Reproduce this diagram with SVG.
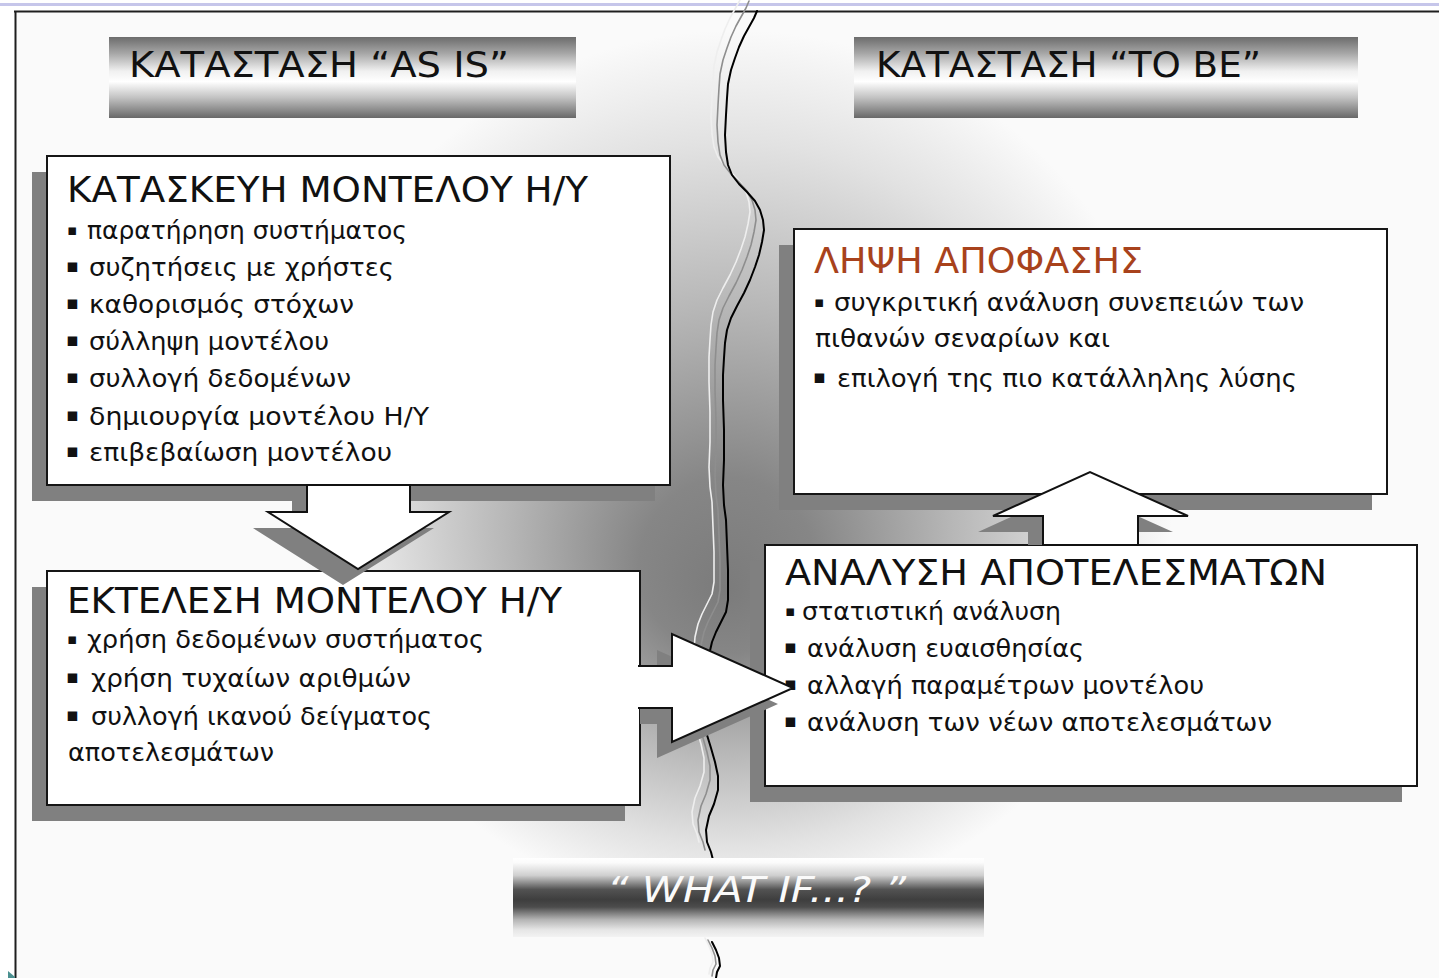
<svg xmlns="http://www.w3.org/2000/svg" width="1439" height="978" viewBox="0 0 1439 978">
  <defs>
    <style>
      .t { font-family: "DejaVu Sans", "Liberation Sans", sans-serif; fill: #111; }
      .hd { font-size: 36px; }
      .ttl { font-size: 35px; }
      .it { font-size: 25px; }
      .b1 { font-size: 15px; text-anchor: middle; }
      .b2 { font-size: 19px; text-anchor: middle; }
      .red { fill: #a8421c; }
      .box { fill: #ffffff; stroke: #161616; stroke-width: 2; }
      .shadow { fill: #808080; }
      .arrow { fill: #ffffff; stroke: #111; stroke-width: 2; stroke-linejoin: miter; }
      .crack { fill: none; stroke-linejoin: round; stroke-linecap: round; }
    </style>
    <radialGradient id="bgGrad" gradientUnits="userSpaceOnUse" cx="735" cy="470" r="440" fx="725" fy="590">
      <stop offset="0" stop-color="#7b7b7b"/>
      <stop offset="0.2" stop-color="#868686"/>
      <stop offset="0.5" stop-color="#b6b6b6"/>
      <stop offset="0.8" stop-color="#e2e2e2"/>
      <stop offset="1" stop-color="#fafafa"/>
    </radialGradient>
    <linearGradient id="barGrad" x1="0" y1="0" x2="0" y2="1">
      <stop offset="0" stop-color="#6c6c6c"/>
      <stop offset="0.2" stop-color="#a6a6a6"/>
      <stop offset="0.42" stop-color="#f0f0f0"/>
      <stop offset="0.55" stop-color="#ffffff"/>
      <stop offset="0.75" stop-color="#c2c2c2"/>
      <stop offset="1" stop-color="#686868"/>
    </linearGradient>
    <linearGradient id="whatGrad" x1="0" y1="0" x2="0" y2="1">
      <stop offset="0" stop-color="#ffffff"/>
      <stop offset="0.06" stop-color="#fbfbfb"/>
      <stop offset="0.22" stop-color="#cfcfcf"/>
      <stop offset="0.4" stop-color="#525252"/>
      <stop offset="0.53" stop-color="#3e3e3e"/>
      <stop offset="0.62" stop-color="#4c4c4c"/>
      <stop offset="0.78" stop-color="#b4b4b4"/>
      <stop offset="0.91" stop-color="#e6e6e6"/>
      <stop offset="1" stop-color="#f3f3f3"/>
    </linearGradient>
    <path id="crackTop" d="M757,11 L754,18 L749,27 L744,36 L739,47 L735,58 L731,70 L728,84 L727,98 L726,115 L725,135 L726,152 L728,165 L732,175 L739,184 L747,192 L755,201 L760,210 L763,220 L764,230 L762,242 L759,255 L755,267 L750,280 L744,293 L737,306 L731,318 L727,330 L725,343 L724,358 L723,375 L723,400 L724,430 L724,460 L723,485 L724,505 L726,520 L727,545 L728,570 L728,600 L726,612 L721,622 L716,632 L712,642 L709,655 L707,680 L706,705 L707,735 L711,748 L715,762 L718,776 L718,790 L714,804 L709,816 L706,830 L707,842 L711,852 L713,860"/>
    <path id="crackBottom" d="M712,942 L716,950 L719,958 L720,966 L717,972 L716,978"/>
  </defs>

  <!-- page -->
  <rect x="0" y="0" width="1439" height="978" fill="#ffffff"/>
  <rect x="0" y="3" width="1439" height="3" fill="#c6c6ea"/>
  <rect x="16" y="12" width="1423" height="966" fill="url(#bgGrad)"/>
  <path d="M14,11.5 H1439 M15.5,11 V978" stroke="#1e1e1e" stroke-width="2" fill="none"/>
  <path d="M8,971 L15,977 L15,978 L8,978 Z" fill="#4a9090"/>

  <!-- dividing crack between the two states -->
  <g id="crack" class="crack">
    <use href="#crackTop" transform="translate(-14,-18)" stroke="#eeeeee" stroke-width="1.6"/>
    <use href="#crackTop" transform="translate(-8,-10)" stroke="#8e8e8e" stroke-width="1.6"/>
    <use href="#crackTop" stroke="#000000" stroke-width="2"/>
    <use href="#crackBottom" transform="translate(-7,-4)" stroke="#eeeeee" stroke-width="1.6"/>
    <use href="#crackBottom" transform="translate(-4,-2)" stroke="#8e8e8e" stroke-width="1.6"/>
    <use href="#crackBottom" stroke="#000000" stroke-width="2"/>
  </g>

  <!-- section headings -->
  <g id="hdr-as-is">
    <rect x="109" y="37" width="467" height="81" fill="url(#barGrad)"/>
    <text class="t hd" x="129" y="77" textLength="380" lengthAdjust="spacingAndGlyphs">ΚΑΤΑΣΤΑΣΗ “AS IS”</text>
  </g>
  <g id="hdr-to-be">
    <rect x="854" y="37" width="504" height="81" fill="url(#barGrad)"/>
    <text class="t hd" x="876" y="77" textLength="385" lengthAdjust="spacingAndGlyphs">ΚΑΤΑΣΤΑΣΗ “TO BE”</text>
  </g>

  <!-- model construction -->
  <g id="node-construction">
    <rect class="shadow" x="32" y="172" width="623" height="329"/>
    <rect class="box" x="47" y="156" width="623" height="329"/>
    <text class="t ttl" x="67" y="202" textLength="521" lengthAdjust="spacingAndGlyphs">ΚΑΤΑΣΚΕΥΗ ΜΟΝΤΕΛΟΥ Η/Υ</text>
    <text class="t b1" x="72" y="235">▪</text>
    <text class="t it" x="87" y="239" textLength="320" lengthAdjust="spacingAndGlyphs">παρατήρηση συστήματος</text>
    <text class="t b2" x="72.5" y="272">▪</text>
    <text class="t it" x="89" y="276" textLength="305" lengthAdjust="spacingAndGlyphs">συζητήσεις με χρήστες</text>
    <text class="t b2" x="72.5" y="309">▪</text>
    <text class="t it" x="89" y="313" textLength="265" lengthAdjust="spacingAndGlyphs">καθορισμός στόχων</text>
    <text class="t b2" x="72.5" y="346">▪</text>
    <text class="t it" x="89" y="350" textLength="240" lengthAdjust="spacingAndGlyphs">σύλληψη μοντέλου</text>
    <text class="t b2" x="72.5" y="383">▪</text>
    <text class="t it" x="89" y="387" textLength="262" lengthAdjust="spacingAndGlyphs">συλλογή δεδομένων</text>
    <text class="t b2" x="72.5" y="421">▪</text>
    <text class="t it" x="89" y="425" textLength="340" lengthAdjust="spacingAndGlyphs">δημιουργία μοντέλου Η/Υ</text>
    <text class="t b2" x="72.5" y="457">▪</text>
    <text class="t it" x="89" y="461" textLength="303" lengthAdjust="spacingAndGlyphs">επιβεβαίωση μοντέλου</text>
  </g>

  <!-- model execution -->
  <g id="node-execution">
    <rect class="shadow" x="32" y="587" width="593" height="234"/>
    <rect class="box" x="47" y="571" width="593" height="234"/>
    <text class="t ttl" x="67" y="613" textLength="495" lengthAdjust="spacingAndGlyphs">ΕΚΤΕΛΕΣΗ ΜΟΝΤΕΛΟΥ Η/Υ</text>
    <text class="t b1" x="72" y="644">▪</text>
    <text class="t it" x="87" y="648" textLength="397" lengthAdjust="spacingAndGlyphs">χρήση δεδομένων συστήματος</text>
    <text class="t b2" x="72.5" y="683">▪</text>
    <text class="t it" x="91" y="687" textLength="320" lengthAdjust="spacingAndGlyphs">χρήση τυχαίων αριθμών</text>
    <text class="t b2" x="72.5" y="721">▪</text>
    <text class="t it" x="91" y="725" textLength="341" lengthAdjust="spacingAndGlyphs">συλλογή ικανού δείγματος</text>
    <text class="t it" x="68" y="761" textLength="206" lengthAdjust="spacingAndGlyphs">αποτελεσμάτων</text>
  </g>

  <!-- decision making -->
  <g id="node-decision">
    <rect class="shadow" x="779" y="245" width="593" height="265"/>
    <rect class="box" x="794" y="229" width="593" height="265"/>
    <text class="t ttl red" x="814" y="273" textLength="329" lengthAdjust="spacingAndGlyphs">ΛΗΨΗ ΑΠΟΦΑΣΗΣ</text>
    <text class="t b1" x="819" y="307">▪</text>
    <text class="t it" x="834" y="311" textLength="470" lengthAdjust="spacingAndGlyphs">συγκριτική ανάλυση συνεπειών των</text>
    <text class="t it" x="815" y="347" textLength="295" lengthAdjust="spacingAndGlyphs">πιθανών σεναρίων και</text>
    <text class="t b2" x="819.5" y="383">▪</text>
    <text class="t it" x="837" y="387" textLength="460" lengthAdjust="spacingAndGlyphs">επιλογή της πιο κατάλληλης λύσης</text>
  </g>

  <!-- results analysis -->
  <g id="node-analysis">
    <rect class="shadow" x="750" y="561" width="652" height="241"/>
    <rect class="box" x="765" y="545" width="652" height="241"/>
    <text class="t ttl" x="785" y="585" textLength="542" lengthAdjust="spacingAndGlyphs">ΑΝΑΛΥΣΗ ΑΠΟΤΕΛΕΣΜΑΤΩΝ</text>
    <text class="t b1" x="790" y="616">▪</text>
    <text class="t it" x="802" y="620" textLength="259" lengthAdjust="spacingAndGlyphs">στατιστική ανάλυση</text>
    <text class="t b2" x="790.5" y="653">▪</text>
    <text class="t it" x="807" y="657" textLength="277" lengthAdjust="spacingAndGlyphs">ανάλυση ευαισθησίας</text>
    <text class="t b2" x="790.5" y="690">▪</text>
    <text class="t it" x="807" y="694" textLength="397" lengthAdjust="spacingAndGlyphs">αλλαγή παραμέτρων μοντέλου</text>
    <text class="t b2" x="790.5" y="727">▪</text>
    <text class="t it" x="807" y="731" textLength="465" lengthAdjust="spacingAndGlyphs">ανάλυση των νέων αποτελεσμάτων</text>
  </g>

  <!-- block arrows with their drop shadows -->
  <g id="connectors">
    <polygon class="shadow" points="292,501 395,501 395,528 434,528 343,585 253,528 292,528"/>
    <polygon class="shadow" points="640,682 657,682 657,650 778,704 657,758 657,724 640,724"/>
    <polygon class="shadow" points="1028,545 1028,532 978,532 1059.6,495 1090.6,495 1173,532 1123,532 1123,545"/>
    <polygon id="arrow-construction-execution" class="arrow" points="307,485 410,485 410,512 449,512 358,569 268,512 307,512"/>
    <path id="arrow-execution-analysis" class="arrow" d="M638,666 H672 V634 L793,688 L672,742 V708 H638"/>
    <polygon id="arrow-analysis-decision" class="arrow" points="1043,545 1043,516 993,516 1090,472 1188,516 1138,516 1138,545"/>
  </g>

  <!-- "what if" banner -->
  <g id="banner-what-if">
    <rect x="513" y="858" width="471" height="79" fill="url(#whatGrad)"/>
    <text x="607" y="902" textLength="299" lengthAdjust="spacingAndGlyphs" font-family="'DejaVu Sans', 'Liberation Sans', sans-serif" font-size="36" font-style="italic" fill="#fafafa">“ WHAT IF...? ”</text>
  </g>
</svg>
